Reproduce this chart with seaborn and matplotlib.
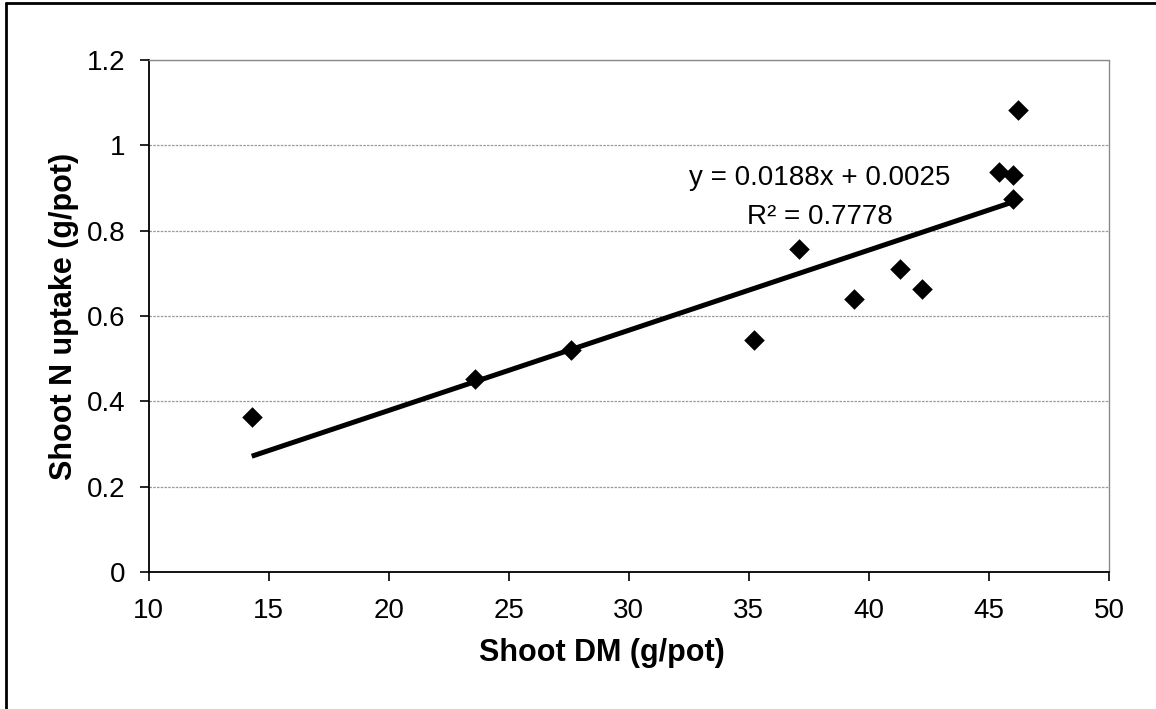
import numpy as np
import pandas as pd
import matplotlib
matplotlib.use("Agg")
import matplotlib.pyplot as plt
from matplotlib.lines import Line2D
import seaborn as sns

# ---- data ----
shoot_dm = [14.3, 23.6, 27.6, 35.2, 37.1, 39.4, 41.3, 42.2, 45.4, 46.0, 46.0, 46.2]
shoot_n = [0.363, 0.452, 0.520, 0.543, 0.756, 0.639, 0.710, 0.663, 0.937, 0.930, 0.874, 1.083]
slope = 0.0188
intercept = 0.0025
r_squared = 0.7778
x_ticks = [10, 15, 20, 25, 30, 35, 40, 45, 50]
y_ticks = [0, 0.2, 0.4, 0.6, 0.8, 1.0, 1.2]
y_tick_labels = ["0", "0.2", "0.4", "0.6", "0.8", "1", "1.2"]
x_label = "Shoot DM (g/pot)"
y_label = "Shoot N uptake (g/pot)"

df = pd.DataFrame({"dm": shoot_dm, "n": shoot_n})
trend_x = np.array([min(shoot_dm), max(shoot_dm)])
trend = pd.DataFrame({"dm": trend_x, "n": slope * trend_x + intercept})

sns.set_theme(style="white")
plt.rcParams["font.family"] = ["Liberation Sans", "DejaVu Sans"]

fig = plt.figure(figsize=(11.56, 7.09), dpi=100)
ax = fig.add_axes([148.5 / 1156, 1 - 572 / 709, (1109 - 148.5) / 1156, (572 - 60) / 709])

sns.lineplot(data=trend, x="dm", y="n", ax=ax, color="black", linewidth=3.6,
             solid_capstyle="butt", zorder=3)
sns.scatterplot(data=df, x="dm", y="n", ax=ax, marker="D", color="black",
                s=110, edgecolor="black", linewidth=0, zorder=4)

ax.set_xlim(10, 50)
ax.set_ylim(0, 1.2)
ax.set_xticks(x_ticks)
ax.set_xticklabels([str(t) for t in x_ticks])
ax.set_yticks(y_ticks)
ax.set_yticklabels(y_tick_labels)

ax.grid(axis="y", color="#9a9a9a", linewidth=0.9, linestyle=(0, (2, 1)))
ax.grid(axis="x", visible=False)
ax.set_axisbelow(True)

for side in ["left", "bottom"]:
    ax.spines[side].set_color("black")
    ax.spines[side].set_linewidth(1.3)
for side in ["top", "right"]:
    ax.spines[side].set_color("#8a8a8a")
    ax.spines[side].set_linewidth(1.0)
    ax.spines[side].set_linestyle((0, (2, 1)))

ax.tick_params(axis="both", which="major", direction="out", length=6.5, width=1.2,
               color="black", labelsize=20, labelcolor="black")
ax.tick_params(axis="y", pad=10, left=True)
ax.tick_params(axis="x", pad=12, bottom=True)

ax.set_xlabel(x_label, fontsize=22, fontweight="bold", color="black")
ax.set_ylabel(y_label, fontsize=22, fontweight="bold", color="black")
ax.xaxis.set_label_coords(0.472, -0.128)
ax.yaxis.set_label_coords(-0.072, 0.5)

ax.text(37.97, 0.923, f"y = {slope}x + {intercept}", fontsize=20, ha="center", va="center",
        color="black")
ax.text(37.97, 0.832, f"R\u00b2 = {r_squared}", fontsize=20, ha="center", va="center",
        color="black")

# outer chart frame (left and top edges visible in the scan)
fig.add_artist(Line2D([6 / 1156, 6 / 1156], [0, 1 - 3 / 709], transform=fig.transFigure,
                      color="black", linewidth=2))
fig.add_artist(Line2D([6 / 1156, 1], [1 - 3 / 709, 1 - 3 / 709], transform=fig.transFigure,
                      color="black", linewidth=2))

fig.savefig("out.png", dpi=100)
